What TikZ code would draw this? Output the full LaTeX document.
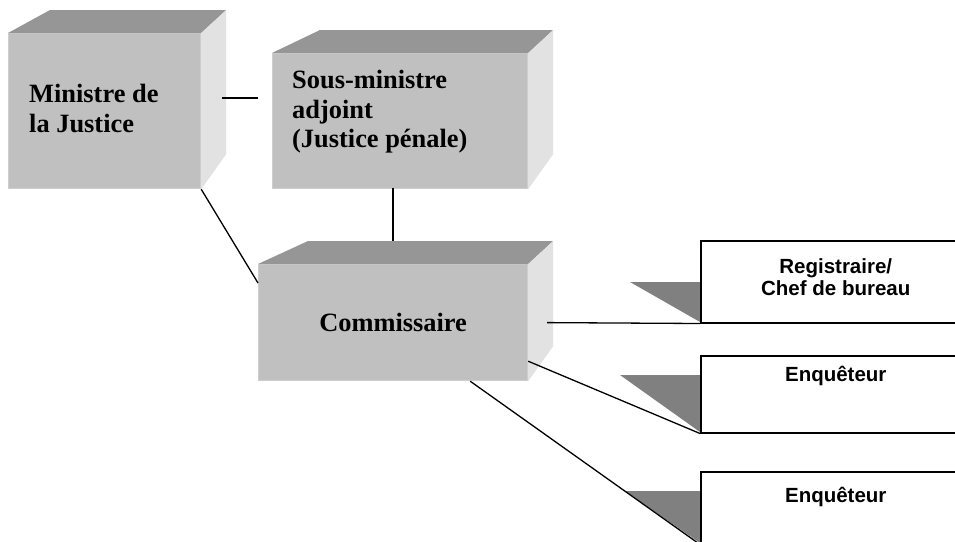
\documentclass[tikz,border=0pt]{standalone}
\usepackage{fontspec}
\setmainfont{Liberation Serif}
\setsansfont{Liberation Sans}
\usetikzlibrary{positioning}
\definecolor{frontgray}{RGB}{192,192,192}
\definecolor{frontedge}{RGB}{206,206,206}
\definecolor{topgray}{RGB}{150,150,150}
\definecolor{sidegray}{RGB}{226,226,226}
\definecolor{tabgray}{RGB}{128,128,128}
\tikzset{
	front/.style={fill=frontgray, draw=frontedge, line width=1.2pt, inner sep=0pt},
	topface/.style={fill=topgray},
	sideface/.style={fill=sidegray},
	serifname/.style={inner sep=0pt, align=left, font=\fontsize{26.4}{29.5}\selectfont\bfseries},
	sansname/.style={inner sep=0pt, align=center, font=\sffamily\fontsize{20.5}{22}\selectfont\bfseries},
	staffbox/.style={draw=black, fill=white, line width=1.5pt, inner sep=0pt, minimum width=270pt, anchor=north west},
	tab/.style={fill=tabgray},
	link/.style={draw=black, line width=1.3pt}
}
\begin{document}
\begin{tikzpicture}[x=1pt, y=-1pt]
	\useasboundingbox (0,0) rectangle (955,541);
	\clip (0,0) rectangle (955,541);
	% front faces of the three boxes
	\node[front, minimum width=192pt, minimum height=155pt, anchor=north west] (min) at (8,33) {};
	\node[front, minimum width=255pt, minimum height=135pt, anchor=north west] (sma) at (272,53) {};
	\node[front, minimum width=269pt, minimum height=116pt, anchor=north west, font=\fontsize{26.4}{29.5}\selectfont\bfseries] (comm) at (258,264) {Commissaire};
	% top and side faces
	\foreach \b/\dl in {min/42, sma/48, comm/50} {
		\fill[topface] (\b.north east) -- ++(25,-23) -- ([xshift=\dl pt, yshift=23pt]\b.north west) -- (\b.north west) -- cycle;
		\fill[sideface] (\b.north east) -- ++(25,-23) -- ([xshift=25pt, yshift=35pt]\b.south east) -- (\b.south east) -- cycle;
	}
	\node[serifname, below right=51pt and 21pt of min.north west] (minT) {Ministre de\\la Justice};
	\node[serifname, below right=17pt and 20pt of sma.north west] (smaT) {Sous-ministre\\adjoint\\(Justice pénale)};

	% staff boxes on the right
	\fill[tab] (630,282) -- (700,282) -- (700,322) -- cycle;
	\fill[tab] (620,375) -- (700,375) -- (700,432) -- cycle;
	\fill[tab] (625,491) -- (700,491) -- (700,543) -- cycle;
	\node[staffbox, minimum height=82pt] (reg) at (700,240) {};
	\node[staffbox, minimum height=77pt] (enq1) at (700,355) {};
	\node[staffbox, minimum height=72pt] (enq2) at (700,471) {};
	\node[sansname, below=18pt of reg.north] (regT) {Registraire/\\Chef de bureau};
	\node[sansname, below=10.5pt of enq1.north] (enq1T) {Enquêteur};
	\node[sansname, below=15.5pt of enq2.north] (enq2T) {Enquêteur};

	% connectors
	\coordinate (minR) at (222,98);
	\coordinate (smaL) at (258,98);
	\coordinate (smaB) at (393,188);
	\coordinate (commT) at (393,241);
	\draw[link] (minR) -- (smaL);
	\draw[link] (smaB) -- (commT);
	\draw[link] (min.south east) -- ([yshift=-19pt]comm.north west);
	\draw[link] ([xshift=19pt]comm.east) -- (reg.south west);
	\draw[link] ([yshift=20pt]comm.south east) -- (enq1.south west);
	\draw[link] ([xshift=-58pt]comm.south east) -- (enq2.south west);
\end{tikzpicture}
\end{document}
